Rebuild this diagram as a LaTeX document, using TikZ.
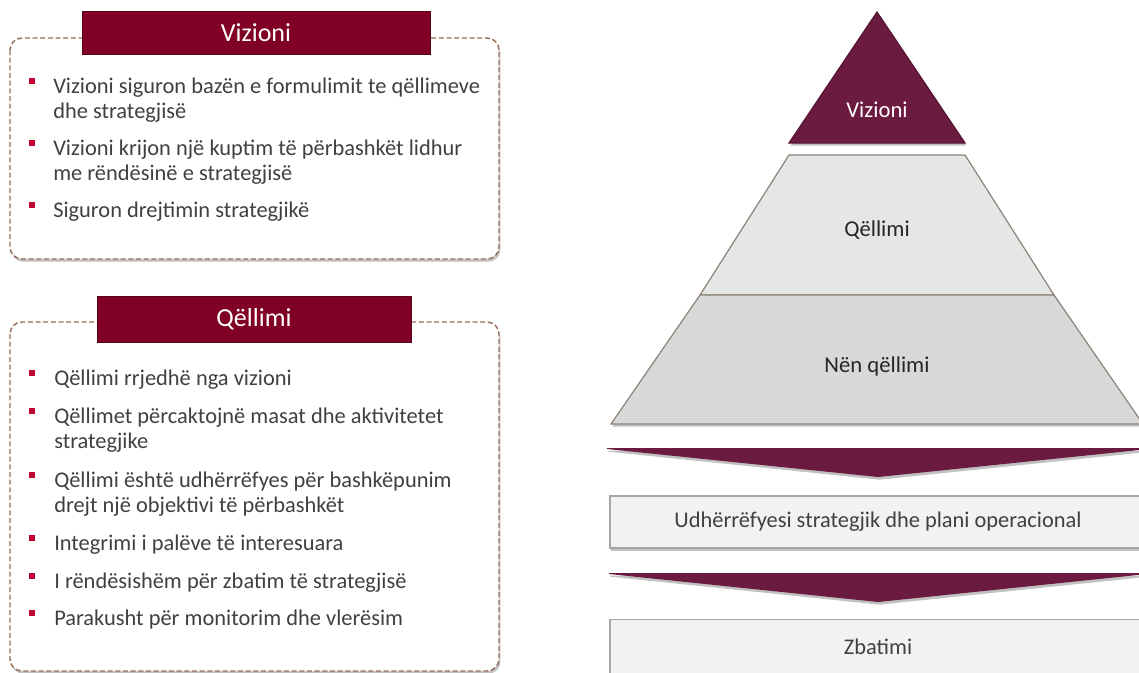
\documentclass[tikz,border=0pt]{standalone}
\usepackage{fontspec}
\setmainfont{Carlito}
\usetikzlibrary{shadows,positioning}

\definecolor{visionred}{RGB}{128,0,38}
\definecolor{plum}{RGB}{107,26,64}
\definecolor{dashbrown}{RGB}{150,110,90}
\definecolor{layerlight}{RGB}{230,230,230}
\definecolor{layerdark}{RGB}{216,216,216}
\definecolor{layeredge}{RGB}{140,130,120}
\definecolor{planfill}{RGB}{242,242,242}
\definecolor{planedge}{RGB}{166,166,166}
\definecolor{bulletred}{RGB}{192,0,48}
\definecolor{bodytext}{RGB}{64,64,64}

\tikzset{
  softshadow/.style={drop shadow={shadow xshift=1pt, shadow yshift=-2pt, opacity=0.35, fill=black!70}},
  dashbox/.style={draw=dashbrown, line width=1.1pt, dash pattern=on 3.75pt off 2pt, rounded corners=9pt, fill=white, softshadow},
  banner/.style={fill=visionred, draw=visionred!70!black, text=white, font=\fontsize{19.5}{22}\selectfont, inner sep=0pt},
  bullet/.style={fill=bulletred, minimum size=4.5pt, inner sep=0pt},
  itemtext/.style={anchor=base west, inner sep=0pt, text width=345pt, align=left, text=bodytext, font=\fontsize{16.8}{18.75}\selectfont,
    execute at begin node={\spaceskip=0.23em plus 0.05em minus 0.02em\relax}},
  layer/.style={draw=layeredge, line width=0.9pt, softshadow},
  layerlabel/.style={font=\fontsize{17}{20}\selectfont, text=black!85},
  band/.style={fill=plum, softshadow},
  planbox/.style={fill=planfill, draw=planedge, line width=1pt, minimum width=402pt, inner sep=0pt, text=bodytext, font=\fontsize{16.8}{19}\selectfont, softshadow}
}

\begin{document}
\begin{tikzpicture}[x=0.75pt, y=-0.75pt]
        \path[use as bounding box] (0,0) rectangle (1139,672);
        \clip (0,0) rectangle (1139,672);

        % left column: vision box
        \draw[dashbox] (10,38) rectangle (499,259);
        \node[banner, minimum width=261pt, minimum height=32.25pt] (visiontitle) at (256,32.5) {Vizioni};

        \node[bullet] (vb1) at (32,81) {};
        \node[itemtext] (vt1) at (53,93) {Vizioni siguron bazën e formulimit te qëllimeve\\dhe strategjisë};
        \node[bullet] (vb2) at (32,143) {};
        \node[itemtext] (vt2) at (53,155) {Vizioni krijon një kuptim të përbashkët lidhur\\me rëndësinë e strategjisë};
        \node[bullet] (vb3) at (32,205) {};
        \node[itemtext] (vt3) at (53,217) {Siguron drejtimin strategjikë};

        % left column: goal box
        \draw[dashbox] (10,322) rectangle (499,671);
        \node[banner, minimum width=235.5pt, minimum height=34.5pt] (goaltitle) at (254,319) {Qëllimi};

        \node[bullet] (gb1) at (32,373) {};
        \node[itemtext] (gt1) at (54,385) {Qëllimi rrjedhë nga vizioni};
        \node[bullet] (gb2) at (32,411) {};
        \node[itemtext] (gt2) at (54,423) {Qëllimet përcaktojnë masat dhe aktivitetet\\strategjike};
        \node[bullet] (gb3) at (32,475) {};
        \node[itemtext] (gt3) at (54,487) {Qëllimi është udhërrëfyes për bashkëpunim\\drejt një objektivi të përbashkët};
        \node[bullet] (gb4) at (32,538) {};
        \node[itemtext] (gt4) at (54,550) {Integrimi i palëve të interesuara};
        \node[bullet] (gb5) at (32,576) {};
        \node[itemtext] (gt5) at (54,588) {I rëndësishëm për zbatim të strategjisë};
        \node[bullet] (gb6) at (32,613) {};
        \node[itemtext] (gt6) at (54,625) {Parakusht për monitorim dhe vlerësim};

        % right column: pyramid
        \draw[layer, fill=plum, draw=plum!80!black] (877,12) -- (965,143) -- (789,143) -- cycle;
        \draw[layer, fill=layerlight] (789,155) -- (965,155) -- (1054,295) -- (700,295) -- cycle;
        \draw[layer, fill=layerdark] (700,295) -- (1054,295) -- (1143,424) -- (611,424) -- cycle;
        \node[layerlabel, text=white] (visionlayer) at (877,110) {Vizioni};
        \node[layerlabel] (goallayer) at (877,230) {Qëllimi};
        \node[layerlabel] (subgoallayer) at (877,366) {Nën qëllimi};

        % bands and plan boxes
        \fill[band] (607,448) -- (1149,448) -- (1149,449) -- (878,477) -- (607,449) -- cycle;
        \node[planbox, minimum height=39pt] (roadmap) at (878,522) {Udhërrëfyesi strategjik dhe plani operacional};
        \fill[band] (609,573) -- (1147,573) -- (1147,574) -- (878,602) -- (609,574) -- cycle;
        \node[planbox, minimum height=42pt, anchor=north] (implement) at (878,619) {};
        \node[text=bodytext, font=\fontsize{16.8}{19}\selectfont] (implementlabel) at (878,647) {Zbatimi};
    \end{tikzpicture}
\end{document}
